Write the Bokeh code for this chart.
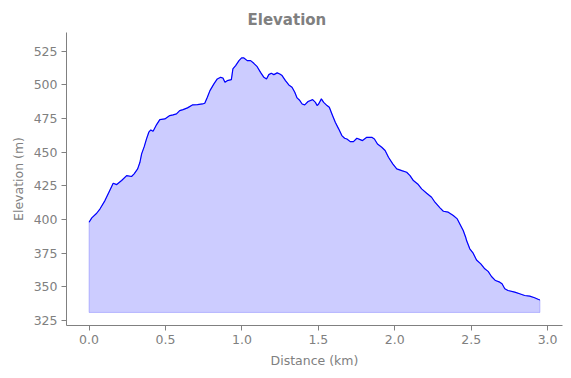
from bokeh.plotting import figure
from bokeh.models import Range1d, FixedTicker
from bokeh.embed import file_html
from bokeh.resources import INLINE

distance_km = [0.000, 0.018, 0.050, 0.072, 0.104, 0.130, 0.158, 0.181, 0.213, 0.246,
               0.278, 0.295, 0.318, 0.333, 0.344, 0.361, 0.376, 0.391, 0.404, 0.419,
               0.442, 0.463, 0.496, 0.528, 0.550, 0.572, 0.593, 0.615, 0.644, 0.676,
               0.709, 0.742, 0.757, 0.774, 0.791, 0.817, 0.839, 0.861, 0.876, 0.889,
               0.904, 0.931, 0.941, 0.959, 0.981, 0.998, 1.013, 1.035, 1.057, 1.078,
               1.100, 1.122, 1.144, 1.161, 1.176, 1.192, 1.209, 1.231, 1.248, 1.263,
               1.285, 1.307, 1.328, 1.346, 1.361, 1.376, 1.394, 1.411, 1.433, 1.463,
               1.481, 1.492, 1.502, 1.520, 1.535, 1.557, 1.572, 1.589, 1.611, 1.633,
               1.654, 1.672, 1.687, 1.709, 1.730, 1.752, 1.774, 1.789, 1.817, 1.850,
               1.867, 1.887, 1.915, 1.937, 1.959, 1.987, 2.013, 2.046, 2.078, 2.100,
               2.122, 2.154, 2.176, 2.209, 2.241, 2.263, 2.296, 2.318, 2.350, 2.383,
               2.409, 2.431, 2.448, 2.464, 2.470, 2.491, 2.513, 2.535, 2.563, 2.589,
               2.611, 2.633, 2.659, 2.687, 2.702, 2.720, 2.741, 2.785, 2.817, 2.850,
               2.883, 2.915, 2.941, 2.950]
elevation_m = [398.0, 401.3, 404.7, 408.0, 414.1, 420.3, 427.0, 426.0, 429.0, 432.7,
               432.0, 434.0, 437.7, 442.6, 448.8, 454.2, 460.0, 464.9, 466.6, 465.6,
               470.6, 474.3, 474.8, 477.3, 477.8, 478.5, 481.0, 481.7, 483.0, 485.2,
               485.4, 485.9, 486.4, 490.9, 495.8, 500.8, 504.5, 505.7, 505.2, 502.0,
               503.2, 504.0, 511.9, 514.4, 518.1, 520.1, 520.1, 518.1, 518.1, 516.1,
               513.6, 509.4, 505.7, 504.5, 507.7, 508.7, 507.7, 509.0, 508.2, 507.0,
               503.2, 500.0, 498.3, 494.6, 490.4, 488.9, 485.9, 485.2, 487.7, 489.1,
               487.1, 484.7, 485.9, 489.7, 487.1, 484.7, 483.4, 478.5, 472.3, 467.4,
               462.4, 460.4, 459.9, 457.9, 457.9, 460.4, 459.4, 458.7, 461.1, 461.1,
               459.9, 456.2, 453.7, 451.3, 446.3, 441.4, 437.7, 436.4, 435.2, 432.7,
               429.0, 426.0, 422.8, 419.6, 416.6, 412.9, 408.7, 406.2, 405.5, 403.0,
               400.5, 395.6, 391.9, 386.9, 384.4, 378.3, 375.0, 370.0, 367.1, 363.4,
               361.5, 357.7, 354.7, 353.5, 352.3, 348.6, 347.3, 346.1, 344.9, 343.6,
               343.1, 341.9, 340.6, 340.3]
fill_base_m = 331.0

x_ticks = [0.0, 0.5, 1.0, 1.5, 2.0, 2.5, 3.0]
y_ticks = [325, 350, 375, 400, 425, 450, 475, 500, 525]

GREY = "#808080"
FONT = "DejaVu Sans"

p = figure(width=571, height=378, frame_width=496, frame_height=293,
           output_backend="svg", toolbar_location=None,
           x_range=Range1d(-0.1475, 3.0975), y_range=Range1d(321.3, 539.0),
           min_border_left=66, min_border_right=9, min_border_top=32, min_border_bottom=53,
           title="Elevation")
p.outline_line_color = None
p.xgrid.visible = False
p.ygrid.visible = False
p.background_fill_color = "white"
p.border_fill_color = "white"

p.title.text_font = FONT
p.title.text_font_size = "15px"
p.title.text_font_style = "bold"
p.title.text_color = GREY
p.title.align = "left"
p.title.offset = 181
p.title.standoff = 8

# filled area (with a faint edge like matplotlib's fill_between)
poly_x = list(distance_km) + [distance_km[-1], distance_km[0]]
poly_y = list(elevation_m) + [fill_base_m, fill_base_m]
p.patch(poly_x, poly_y, fill_color="blue", fill_alpha=0.2,
        line_color="blue", line_alpha=0.2, line_width=1)
p.line(distance_km, elevation_m, line_color="blue", line_width=1.2)

for ax in (p.xaxis[0], p.yaxis[0]):
    ax.axis_line_color = GREY
    ax.major_tick_line_color = GREY
    ax.minor_tick_line_color = None
    ax.major_tick_in = 0
    ax.major_tick_out = 5
    ax.major_label_text_color = GREY
    ax.major_label_text_font = FONT
    ax.major_label_text_font_size = "12.5px"
    ax.major_label_standoff = 4
    ax.axis_label_text_color = GREY
    ax.axis_label_text_font = FONT
    ax.axis_label_text_font_size = "12.5px"
    ax.axis_label_text_font_style = "normal"

p.xaxis.ticker = FixedTicker(ticks=x_ticks)
p.yaxis.ticker = FixedTicker(ticks=y_ticks)
p.xaxis.major_label_overrides = {t: f"{t:.1f}" for t in x_ticks}
p.xaxis.axis_label = "Distance (km)"
p.yaxis.axis_label = "Elevation (m)"
p.xaxis.axis_label_standoff = 6
p.yaxis.axis_label_standoff = 5

open("out.html", "w").write(file_html(p, INLINE))
